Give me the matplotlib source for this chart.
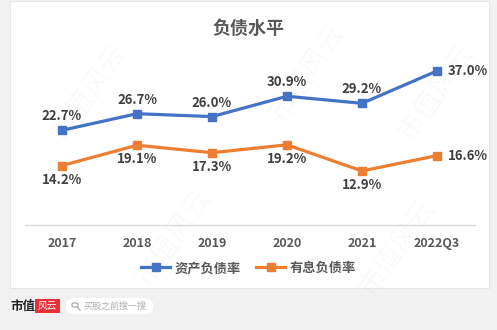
import matplotlib.pyplot as plt
from matplotlib.patches import FancyBboxPatch, Rectangle, Circle
from matplotlib.lines import Line2D

plt.rcParams['font.family'] = ['Noto Sans CJK SC', 'DejaVu Sans']

# 数据
years = ['2017', '2018', '2019', '2020', '2021', '2022Q3']
asset_debt = [22.7, 26.7, 26.0, 30.9, 29.2, 37.0]
interest_debt = [14.2, 19.1, 17.3, 19.2, 12.9, 16.6]

blue = '#4472C4'
orange = '#ED7D31'
txt = '#404040'

fig = plt.figure(figsize=(4.97, 3.3), dpi=100)
fig.patch.set_facecolor('#f1f1f1')

# 白色卡片
fig.patches.append(Rectangle((10 / 497, 1 - 288 / 330), 479 / 497, 287 / 330,
                             transform=fig.transFigure, facecolor='white',
                             edgecolor='#e6e6e6', lw=0.8, zorder=-5))

# 水印
for x, y in [(0.18, 0.72), (0.62, 0.78), (0.88, 0.72), (0.35, 0.28), (0.8, 0.25)]:
    fig.text(x, y, '市值风云', fontsize=20, color='#000000', alpha=0.025,
             rotation=55, ha='center', va='center', zorder=-4)

ax = fig.add_axes([24.5 / 497, 1 - 224.5 / 330, 450 / 497, 166 / 330])
ax.set_zorder(5)
x = list(range(len(years)))
ax.plot(x, asset_debt, color=blue, lw=2.3, marker='s', ms=6, label='资产负债率')
ax.plot(x, interest_debt, color=orange, lw=2.3, marker='s', ms=6, label='有息负债率')

ax.set_xlim(-0.5, len(years) - 0.5)
ax.set_ylim(0, 40)
ax.set_yticks([])
ax.set_xticks(x)
ax.set_xticklabels(years, fontsize=9, fontweight='bold', color='#595959')
ax.tick_params(axis='x', length=0, pad=9)
for s in ['top', 'right', 'left']:
    ax.spines[s].set_visible(False)
ax.spines['bottom'].set_color('#d9d9d9')
ax.spines['bottom'].set_linewidth(1)
ax.patch.set_alpha(0)

lab = dict(fontsize=9.5, fontweight='bold', color=txt)
for i, v in enumerate(asset_debt):
    if i == len(years) - 1:
        ax.annotate(f'{v:.1f}%', (i, v), xytext=(8, 0), textcoords='offset points',
                    ha='left', va='center', **lab)
    else:
        ax.annotate(f'{v:.1f}%', (i, v), xytext=(0, 5), textcoords='offset points',
                    ha='center', va='bottom', **lab)
for i, v in enumerate(interest_debt):
    if i == len(years) - 1:
        ax.annotate(f'{v:.1f}%', (i, v), xytext=(8, 0), textcoords='offset points',
                    ha='left', va='center', **lab)
    else:
        ax.annotate(f'{v:.1f}%', (i, v), xytext=(0, -5), textcoords='offset points',
                    ha='center', va='top', **lab)

fig.text(0.5, 1 - 28 / 330, '负债水平', ha='center', va='center', fontsize=13,
         fontweight='bold', color='#595959')

fig.legend(loc='center', bbox_to_anchor=(0.5, 1 - 268 / 330), ncol=2, frameon=False,
           handlelength=2.2, columnspacing=1.2, handletextpad=0.3,
           prop={'weight': 'bold', 'size': 9.5}, labelcolor='#595959')

# 底部标识
fig.text(10 / 497, 1 - 306 / 330, '市值', fontsize=9, fontweight='bold',
         color='#222222', va='center', ha='left')
fig.patches.append(Rectangle((35 / 497, 1 - 313 / 330), 25 / 497, 14 / 330,
                             transform=fig.transFigure, facecolor='#e8303a',
                             edgecolor='none'))
fig.text(47.5 / 497, 1 - 306 / 330, '风云', fontsize=7, color='white',
         style='italic', va='center', ha='center')
fig.patches.append(FancyBboxPatch((66 / 497, 1 - 314 / 330), 87 / 497, 16 / 330,
                                  boxstyle='round,pad=0,rounding_size=0.02',
                                  transform=fig.transFigure, facecolor='white',
                                  edgecolor='none'))
# 搜索图标
fig.patches.append(Circle((75 / 497, 1 - 305 / 330), 3.2 / 497,
                          transform=fig.transFigure, facecolor='none',
                          edgecolor='#aaaaaa', lw=0.9))
fig.lines.append(Line2D([77.5 / 497, 80 / 497], [1 - 307.5 / 330, 1 - 310 / 330],
                        transform=fig.transFigure, color='#aaaaaa', lw=0.9))
fig.text(84 / 497, 1 - 306 / 330, '买股之前搜一搜', fontsize=6.5, color='#b0b0b0',
         va='center', ha='left')

fig.savefig('out.png', dpi=100, facecolor=fig.get_facecolor())
